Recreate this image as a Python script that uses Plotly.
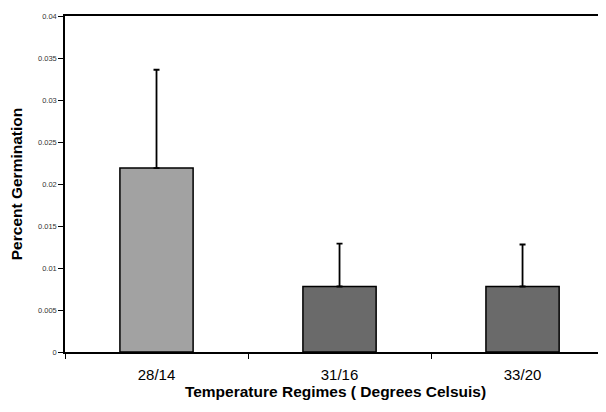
import plotly.graph_objects as go

categories = ["28/14", "31/16", "33/20"]
means = [0.0219, 0.0078, 0.0078]
errors = [0.0117, 0.0051, 0.0050]
bar_colors = ["#a2a2a2", "#6a6a6a", "#6a6a6a"]
y_tick_vals = [0, 0.005, 0.01, 0.015, 0.02, 0.025, 0.03, 0.035, 0.04]
y_tick_text = ["0", "0.005", "0.01", "0.015", "0.02", "0.025", "0.03", "0.035", "0.04"]

FONT = "Liberation Sans, Arial, sans-serif"

fig = go.Figure()
fig.add_trace(go.Bar(
    x=categories, y=means,
    width=0.40,
    marker=dict(color=bar_colors, line=dict(color="black", width=1.5)),
    error_y=dict(type="data", array=errors, arrayminus=[0, 0, 0], symmetric=False,
                 color="black", thickness=1.8, width=3),
))

# page body has an 8px margin, so the figure is sized to fit the 606x412 window
fig.update_layout(
    width=598, height=404,
    margin=dict(l=57, r=0, t=8, b=60),
    paper_bgcolor="white", plot_bgcolor="white",
    showlegend=False,
    font=dict(family=FONT, color="black"),
)
fig.update_xaxes(
    type="category", range=[-0.5, 2.456],
    showline=True, linecolor="black", linewidth=1.5, mirror=True,
    ticks="outside", ticklen=5, tickcolor="black", tickwidth=1,
    tickson="boundaries", ticklabelstandoff=8,
    tickfont=dict(size=15, color="black"),
    showgrid=False, zeroline=False, automargin=False,
    title=dict(text="<b>Temperature Regimes ( Degrees Celsuis)</b>",
               font=dict(size=15.5, color="black"), standoff=4),
)
fig.update_yaxes(
    range=[0, 0.04],
    tickvals=y_tick_vals, ticktext=y_tick_text,
    showline=True, linecolor="black", linewidth=1.5,
    ticks="outside", ticklen=5, tickcolor="black", tickwidth=1,
    tickfont=dict(size=7.5, color="#333333"),
    showgrid=False, zeroline=False, automargin=False,
    title=dict(text="<b>Percent Germination</b>",
               font=dict(size=15.5, color="black"), standoff=12),
)

fig.write_html("out.html")
